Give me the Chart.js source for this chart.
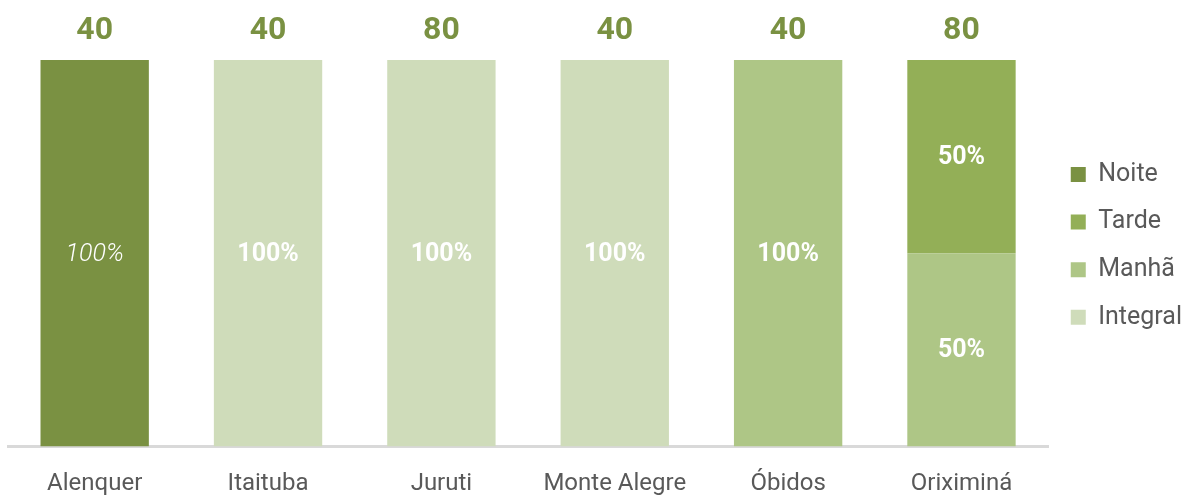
<!DOCTYPE html>
<html>
<head>
<meta charset="utf-8">
<script src="https://cdn.jsdelivr.net/npm/chart.js@4"></script>
<style>
  html, body { margin: 0; padding: 0; background: #fff; }
  #wrap { width: 1196px; height: 498px; position: relative; }
</style>
</head>
<body>
<div id="wrap"><canvas id="turnoChart"></canvas></div>
<script>
const cities = ["Alenquer", "Itaituba", "Juruti", "Monte Alegre", "Óbidos", "Oriximiná"];
const totals = [40, 40, 80, 40, 40, 80];

// share per shift (%), stacked bottom to top
const integral = [0, 100, 100, 100, 0, 0];
const manha = [0, 0, 0, 0, 100, 50];
const tarde = [0, 0, 0, 0, 0, 50];
const noite = [100, 0, 0, 0, 0, 0];

const FONT = "Roboto, 'DejaVu Sans', sans-serif";

// labels inside the segments + total above each bar
const barLabels = {
  id: "barLabels",
  afterDatasetsDraw(chart) {
    const ctx = chart.ctx;
    ctx.save();
    ctx.textAlign = "center";
    ctx.textBaseline = "middle";
    chart.data.datasets.forEach((ds, di) => {
      const meta = chart.getDatasetMeta(di);
      meta.data.forEach((bar, i) => {
        const v = ds.data[i];
        if (!v) return;
        const c = bar.getCenterPoint();
        ctx.fillStyle = "#ffffff";
        ctx.font = ds.label === "Noite" ? "italic 300 25px " + FONT : "bold 25px " + FONT;
        ctx.fillText(v + "%", c.x, c.y + 1);
      });
    });
    const x = chart.scales.x, y = chart.scales.y;
    ctx.fillStyle = "#7A9142";
    ctx.font = "bold 32px " + FONT;
    totals.forEach((t, i) => {
      ctx.fillText(t, x.getPixelForValue(i), y.getPixelForValue(100) - 29);
    });
    ctx.restore();
  }
};

new Chart(document.getElementById("turnoChart"), {
  type: "bar",
  data: {
    labels: cities,
    datasets: [
      { label: "Integral", data: integral, backgroundColor: "#CFDCBA" },
      { label: "Manhã", data: manha, backgroundColor: "#AEC686" },
      { label: "Tarde", data: tarde, backgroundColor: "#93AF57" },
      { label: "Noite", data: noite, backgroundColor: "#7A9142" }
    ]
  },
  options: {
    responsive: true,
    maintainAspectRatio: false,
    animation: false,
    layout: { padding: { top: 60, left: 8, bottom: 0, right: 4 } },
    datasets: { bar: { categoryPercentage: 1, barPercentage: 0.625 } },
    scales: {
      x: {
        stacked: true,
        z: 1,
        grid: { display: false, drawTicks: false },
        border: { display: true, color: "#D9D9D9", width: 3 },
        ticks: { padding: 23, color: "#595959", font: { family: FONT, size: 24 } },
        afterFit(scale) { scale.height = 51.5; }
      },
      y: {
        stacked: true,
        display: false,
        min: 0,
        max: 100
      }
    },
    plugins: {
      legend: {
        position: "right",
        align: "start",
        reverse: true,
        title: { display: true, text: " ", font: { size: 12 }, padding: { top: 65, bottom: 0 } },
        labels: {
          boxWidth: 15,
          boxHeight: 15,
          padding: 22.6,
          color: "#595959",
          font: { family: FONT, size: 25 }
        }
      },
      tooltip: { enabled: false }
    }
  },
  plugins: [barLabels]
});
</script>
</body>
</html>
